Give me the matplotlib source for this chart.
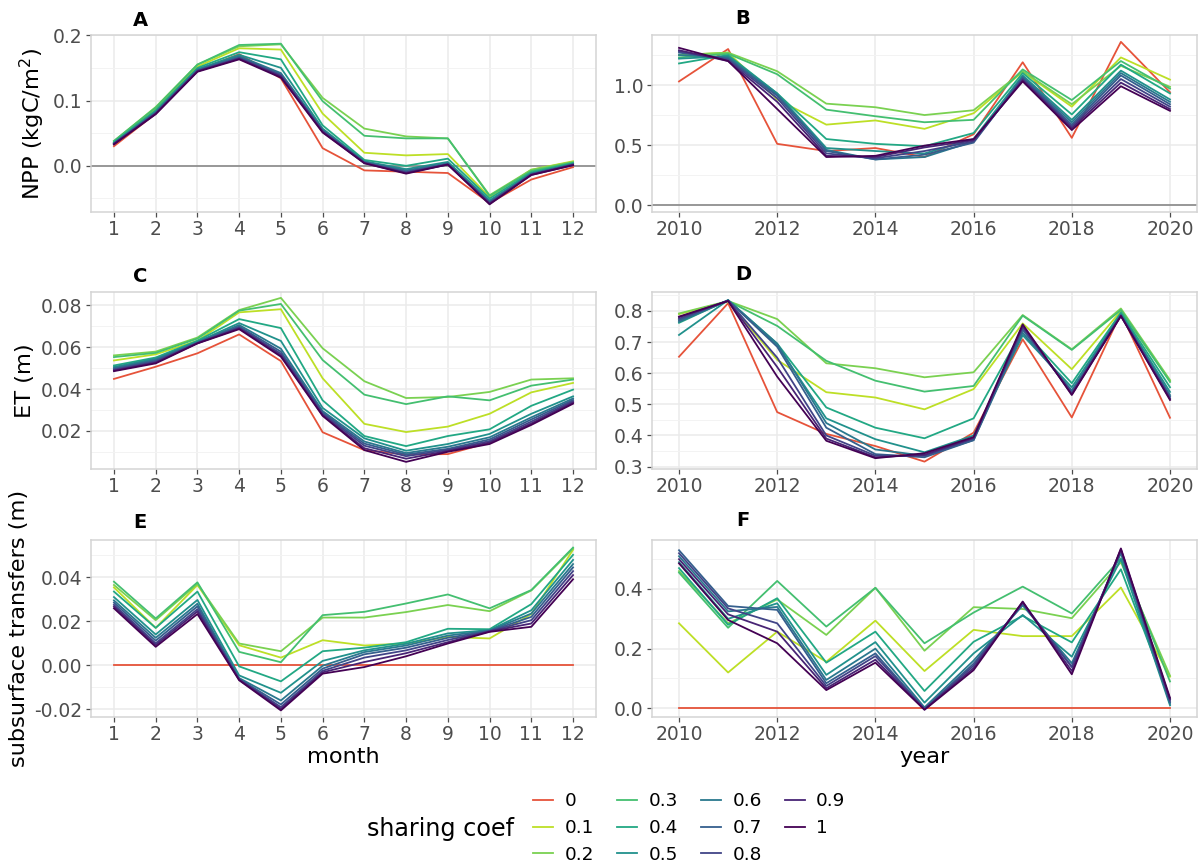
import numpy as np
import matplotlib
matplotlib.use("Agg")
import matplotlib.pyplot as plt
from matplotlib.lines import Line2D
from matplotlib.ticker import FuncFormatter, MultipleLocator

plt.rcParams["font.family"] = ["DejaVu Sans"]
plt.rcParams["axes.unicode_minus"] = False

# ---------------------------------------------------------------- data
months = list(range(1, 13))
years = list(range(2010, 2021))
coefs = ["0", "0.1", "0.2", "0.3", "0.4", "0.5", "0.6", "0.7", "0.8", "0.9", "1"]

# NPP (kgC/m2) monthly, one row per sharing coefficient
npp_month = [
    [0.030, 0.080, 0.146, 0.171, 0.134, 0.027, -0.007, -0.009, -0.011, -0.057, -0.021, -0.002],
    [0.036, 0.087, 0.152, 0.180, 0.178, 0.080, 0.020, 0.016, 0.018, -0.048, -0.006, 0.007],
    [0.038, 0.090, 0.155, 0.183, 0.186, 0.104, 0.057, 0.045, 0.042, -0.045, -0.006, 0.006],
    [0.038, 0.089, 0.155, 0.185, 0.187, 0.099, 0.046, 0.042, 0.042, -0.046, -0.008, 0.005],
    [0.036, 0.085, 0.150, 0.174, 0.163, 0.062, 0.009, 0.000, 0.011, -0.050, -0.010, 0.004],
    [0.035, 0.083, 0.148, 0.170, 0.150, 0.057, 0.007, -0.005, 0.006, -0.053, -0.012, 0.003],
    [0.034, 0.082, 0.147, 0.168, 0.142, 0.055, 0.006, -0.007, 0.004, -0.055, -0.012, 0.002],
    [0.034, 0.081, 0.146, 0.166, 0.140, 0.054, 0.005, -0.009, 0.003, -0.056, -0.013, 0.002],
    [0.034, 0.080, 0.145, 0.165, 0.138, 0.053, 0.005, -0.010, 0.002, -0.057, -0.013, 0.002],
    [0.033, 0.080, 0.145, 0.164, 0.137, 0.052, 0.004, -0.011, 0.002, -0.058, -0.014, 0.001],
    [0.033, 0.079, 0.144, 0.163, 0.135, 0.051, 0.004, -0.012, 0.002, -0.059, -0.014, 0.001],
]

# NPP (kgC/m2) yearly
npp_year = [
    [1.03, 1.30, 0.51, 0.45, 0.475, 0.40, 0.59, 1.19, 0.56, 1.36, 0.94],
    [1.25, 1.27, 0.88, 0.67, 0.705, 0.635, 0.765, 1.11, 0.82, 1.23, 1.045],
    [1.25, 1.27, 1.115, 0.845, 0.815, 0.75, 0.79, 1.115, 0.84, 1.16, 0.985],
    [1.23, 1.26, 1.09, 0.795, 0.74, 0.69, 0.71, 1.13, 0.875, 1.20, 0.97],
    [1.18, 1.25, 0.93, 0.55, 0.51, 0.49, 0.60, 1.10, 0.755, 1.17, 0.93],
    [1.22, 1.24, 0.93, 0.475, 0.45, 0.43, 0.55, 1.08, 0.71, 1.12, 0.88],
    [1.25, 1.23, 0.92, 0.46, 0.38, 0.40, 0.53, 1.07, 0.69, 1.10, 0.86],
    [1.27, 1.22, 0.91, 0.45, 0.38, 0.42, 0.52, 1.06, 0.67, 1.08, 0.84],
    [1.28, 1.21, 0.89, 0.43, 0.39, 0.45, 0.53, 1.05, 0.655, 1.05, 0.82],
    [1.29, 1.20, 0.86, 0.41, 0.40, 0.48, 0.54, 1.04, 0.64, 1.02, 0.80],
    [1.31, 1.20, 0.80, 0.40, 0.41, 0.495, 0.55, 1.03, 0.625, 0.99, 0.785],
]

# ET (m) monthly
et_month = [
    [0.0448, 0.0506, 0.0570, 0.0660, 0.0533, 0.0194, 0.0109, 0.0088, 0.0090, 0.0145, 0.0235, 0.0335],
    [0.0536, 0.0565, 0.0630, 0.0765, 0.0780, 0.0451, 0.0234, 0.0195, 0.0221, 0.0282, 0.0384, 0.0429],
    [0.0560, 0.0578, 0.0645, 0.0776, 0.0834, 0.0594, 0.0437, 0.0357, 0.0362, 0.0386, 0.0445, 0.0451],
    [0.0552, 0.0572, 0.0640, 0.0773, 0.0805, 0.0538, 0.0373, 0.0328, 0.0365, 0.0346, 0.0416, 0.0445],
    [0.0512, 0.0550, 0.0630, 0.0733, 0.0690, 0.0346, 0.0176, 0.0128, 0.0176, 0.0208, 0.0320, 0.0397],
    [0.0505, 0.0545, 0.0625, 0.0714, 0.0629, 0.0310, 0.0165, 0.0106, 0.0138, 0.0186, 0.0282, 0.0365],
    [0.0500, 0.0540, 0.0622, 0.0705, 0.0592, 0.0295, 0.0150, 0.0095, 0.0125, 0.0170, 0.0265, 0.0355],
    [0.0495, 0.0535, 0.0620, 0.0698, 0.0578, 0.0288, 0.0140, 0.0088, 0.0115, 0.0160, 0.0255, 0.0348],
    [0.0492, 0.0530, 0.0619, 0.0693, 0.0568, 0.0282, 0.0130, 0.0080, 0.0110, 0.0152, 0.0245, 0.0342],
    [0.0488, 0.0526, 0.0618, 0.0689, 0.0560, 0.0276, 0.0118, 0.0068, 0.0105, 0.0145, 0.0236, 0.0336],
    [0.0485, 0.0522, 0.0617, 0.0685, 0.0554, 0.0272, 0.0109, 0.0053, 0.0101, 0.0138, 0.0229, 0.0330],
]

# ET (m) yearly
et_year = [
    [0.653, 0.825, 0.475, 0.405, 0.366, 0.316, 0.409, 0.709, 0.458, 0.793, 0.457],
    [0.790, 0.830, 0.643, 0.539, 0.522, 0.484, 0.549, 0.760, 0.613, 0.800, 0.575],
    [0.792, 0.832, 0.774, 0.632, 0.616, 0.587, 0.603, 0.787, 0.677, 0.808, 0.578],
    [0.771, 0.832, 0.752, 0.640, 0.576, 0.541, 0.559, 0.785, 0.675, 0.803, 0.572],
    [0.762, 0.835, 0.695, 0.490, 0.425, 0.391, 0.455, 0.740, 0.568, 0.795, 0.555],
    [0.723, 0.835, 0.690, 0.455, 0.388, 0.346, 0.400, 0.722, 0.555, 0.790, 0.540],
    [0.765, 0.834, 0.695, 0.440, 0.355, 0.335, 0.385, 0.730, 0.545, 0.788, 0.530],
    [0.770, 0.834, 0.685, 0.425, 0.340, 0.330, 0.385, 0.740, 0.540, 0.786, 0.525],
    [0.775, 0.833, 0.650, 0.400, 0.335, 0.335, 0.390, 0.748, 0.535, 0.785, 0.520],
    [0.780, 0.833, 0.620, 0.390, 0.330, 0.338, 0.392, 0.752, 0.532, 0.784, 0.517],
    [0.782, 0.832, 0.589, 0.383, 0.327, 0.343, 0.395, 0.757, 0.530, 0.784, 0.514],
]

# subsurface transfers (m) monthly
sub_month = [
    [0.0] * 12,
    [0.0354, 0.0170, 0.0365, 0.0091, 0.0035, 0.0114, 0.0090, 0.0099, 0.0129, 0.0122, 0.0233, 0.0525],
    [0.0365, 0.0205, 0.0370, 0.0099, 0.0064, 0.0217, 0.0217, 0.0242, 0.0274, 0.0246, 0.0340, 0.0530],
    [0.0380, 0.0213, 0.0377, 0.0061, 0.0014, 0.0228, 0.0243, 0.0281, 0.0322, 0.0259, 0.0342, 0.0535],
    [0.0335, 0.0170, 0.0335, -0.0005, -0.0073, 0.0064, 0.0080, 0.0105, 0.0166, 0.0164, 0.0278, 0.0502],
    [0.0310, 0.0140, 0.0297, -0.0046, -0.0125, 0.0020, 0.0068, 0.0098, 0.0145, 0.0160, 0.0250, 0.0479],
    [0.0295, 0.0125, 0.0280, -0.0058, -0.0160, -0.0002, 0.0060, 0.0090, 0.0135, 0.0158, 0.0235, 0.0460],
    [0.0285, 0.0112, 0.0268, -0.0062, -0.0178, -0.0015, 0.0050, 0.0080, 0.0125, 0.0156, 0.0220, 0.0445],
    [0.0275, 0.0100, 0.0255, -0.0064, -0.0190, -0.0025, 0.0035, 0.0068, 0.0115, 0.0155, 0.0205, 0.0428],
    [0.0267, 0.0092, 0.0245, -0.0066, -0.0198, -0.0032, 0.0015, 0.0055, 0.0105, 0.0154, 0.0190, 0.0410],
    [0.0259, 0.0084, 0.0233, -0.0068, -0.0205, -0.0038, -0.0008, 0.0041, 0.0099, 0.0152, 0.0175, 0.0391],
]

# subsurface transfers (m) yearly
sub_year = [
    [0.0] * 11,
    [0.285, 0.120, 0.257, 0.156, 0.294, 0.125, 0.263, 0.242, 0.242, 0.405, 0.106],
    [0.460, 0.285, 0.365, 0.246, 0.404, 0.193, 0.339, 0.333, 0.302, 0.490, 0.109],
    [0.455, 0.270, 0.427, 0.274, 0.404, 0.218, 0.321, 0.408, 0.318, 0.503, 0.090],
    [0.470, 0.280, 0.369, 0.153, 0.257, 0.058, 0.223, 0.310, 0.221, 0.466, 0.030],
    [0.490, 0.300, 0.352, 0.112, 0.222, 0.019, 0.184, 0.313, 0.173, 0.500, 0.010],
    [0.510, 0.325, 0.340, 0.095, 0.200, 0.003, 0.160, 0.345, 0.151, 0.520, 0.015],
    [0.530, 0.343, 0.330, 0.084, 0.184, -0.002, 0.150, 0.350, 0.140, 0.525, 0.020],
    [0.520, 0.335, 0.285, 0.075, 0.175, -0.003, 0.143, 0.354, 0.138, 0.530, 0.025],
    [0.500, 0.315, 0.257, 0.067, 0.163, -0.004, 0.135, 0.356, 0.125, 0.533, 0.030],
    [0.486, 0.296, 0.218, 0.061, 0.153, -0.005, 0.128, 0.358, 0.114, 0.536, 0.035],
]

# ---------------------------------------------------------------- style
colors = ["#E6533A"] + [matplotlib.colormaps["viridis"](v) for v in np.linspace(0.9, 0.0, 10)]

W, H = 1201, 867
fig = plt.figure(figsize=(W / 100, H / 100), dpi=100)

GRID = "#EBEBEB"
MINOR = "#F3F3F3"
BORDER = "#D4D4D4"
TICKC = "#4D4D4D"
TICKSIZE = 13.5


def px_axes(left, top, right, bottom):
    return fig.add_axes([left / W, 1 - bottom / H, (right - left) / W, (bottom - top) / H])


def style(ax, xlim, ylim, major, minor, fmt, xticks):
    ax.set_xlim(*xlim)
    ax.set_ylim(*ylim)
    ax.set_xticks(xticks)
    ax.yaxis.set_major_locator(MultipleLocator(major))
    ax.yaxis.set_minor_locator(MultipleLocator(minor))
    ax.yaxis.set_major_formatter(FuncFormatter(lambda v, p: fmt.format(v + 0.0)))
    ax.grid(True, which="major", color=GRID, lw=1.1, zorder=0)
    ax.grid(True, which="minor", axis="y", color=MINOR, lw=0.7, zorder=0)
    ax.set_axisbelow(True)
    for s in ax.spines.values():
        s.set_color(BORDER)
        s.set_linewidth(1.1)
    ax.tick_params(which="major", length=3.5, width=0.9, color=TICKC,
                   labelcolor=TICKC, labelsize=TICKSIZE, pad=2.5)
    ax.tick_params(which="minor", length=0)


def draw(ax, x, series, zero=False):
    if zero:
        ax.axhline(0, color="#7F7F7F", lw=1.1, zorder=1)
    for vals, c in zip(series, colors):
        ax.plot(x, vals, color=c, lw=1.3, zorder=2)


L = (91, 596)
R = (652, 1197)
rows = [(35, 212), (292, 469), (540, 717)]
mlim = (0.45, 12.55)
ylim_x = (2009.45, 2020.55)

axA = px_axes(L[0], rows[0][0], L[1], rows[0][1])
draw(axA, months, npp_month, zero=True)
style(axA, mlim, (-0.0707, 0.2003), 0.1, 0.05, "{:.1f}", months)

axB = px_axes(R[0], rows[0][0], R[1], rows[0][1])
draw(axB, years, npp_year, zero=True)
style(axB, ylim_x, (-0.058, 1.417), 0.5, 0.25, "{:.1f}", list(range(2010, 2021, 2)))

axC = px_axes(L[0], rows[1][0], L[1], rows[1][1])
draw(axC, months, et_month)
style(axC, mlim, (0.0019, 0.0862), 0.02, 0.01, "{:.2f}", months)

axD = px_axes(R[0], rows[1][0], R[1], rows[1][1])
draw(axD, years, et_year)
style(axD, ylim_x, (0.2923, 0.861), 0.1, 0.05, "{:.1f}", list(range(2010, 2021, 2)))

axE = px_axes(L[0], rows[2][0], L[1], rows[2][1])
draw(axE, months, sub_month)
style(axE, mlim, (-0.0235, 0.05695), 0.02, 0.01, "{:.2f}", months)

axF = px_axes(R[0], rows[2][0], R[1], rows[2][1])
draw(axF, years, sub_year)
style(axF, ylim_x, (-0.0292, 0.5643), 0.2, 0.1, "{:.1f}", list(range(2010, 2021, 2)))

axA.set_ylabel("NPP (kgC/m$^2$)", fontsize=16.2, labelpad=4)
axC.set_ylabel("ET (m)", fontsize=16.2, labelpad=4)
axE.set_ylabel("subsurface transfers (m)", fontsize=16.2, labelpad=4)
axE.set_xlabel("month", fontsize=16.2, labelpad=2)
axF.set_xlabel("year", fontsize=16.2, labelpad=2)

# panel letters
for letter, (x, y) in zip("ABCDEF", [(140, 20), (743, 18), (140, 277), (743, 274), (140, 523), (743, 521)]):
    fig.text(x / W, 1 - y / H, letter, fontsize=14, fontweight="bold", ha="center", va="center")

# legend
handles = [Line2D([], [], color=c, lw=1.3) for c in colors]
fig.legend(handles, coefs, ncol=4, loc="center left", frameon=False,
           bbox_to_anchor=(533 / W, 1 - 828 / H), fontsize=13.3,
           handlelength=1.1, handletextpad=0.6, columnspacing=1.25,
           labelspacing=0.47, borderpad=0, borderaxespad=0)
fig.text(367 / W, 1 - 829 / H, "sharing coef", fontsize=17.2, ha="left", va="center")

fig.savefig("out.png", dpi=100)
